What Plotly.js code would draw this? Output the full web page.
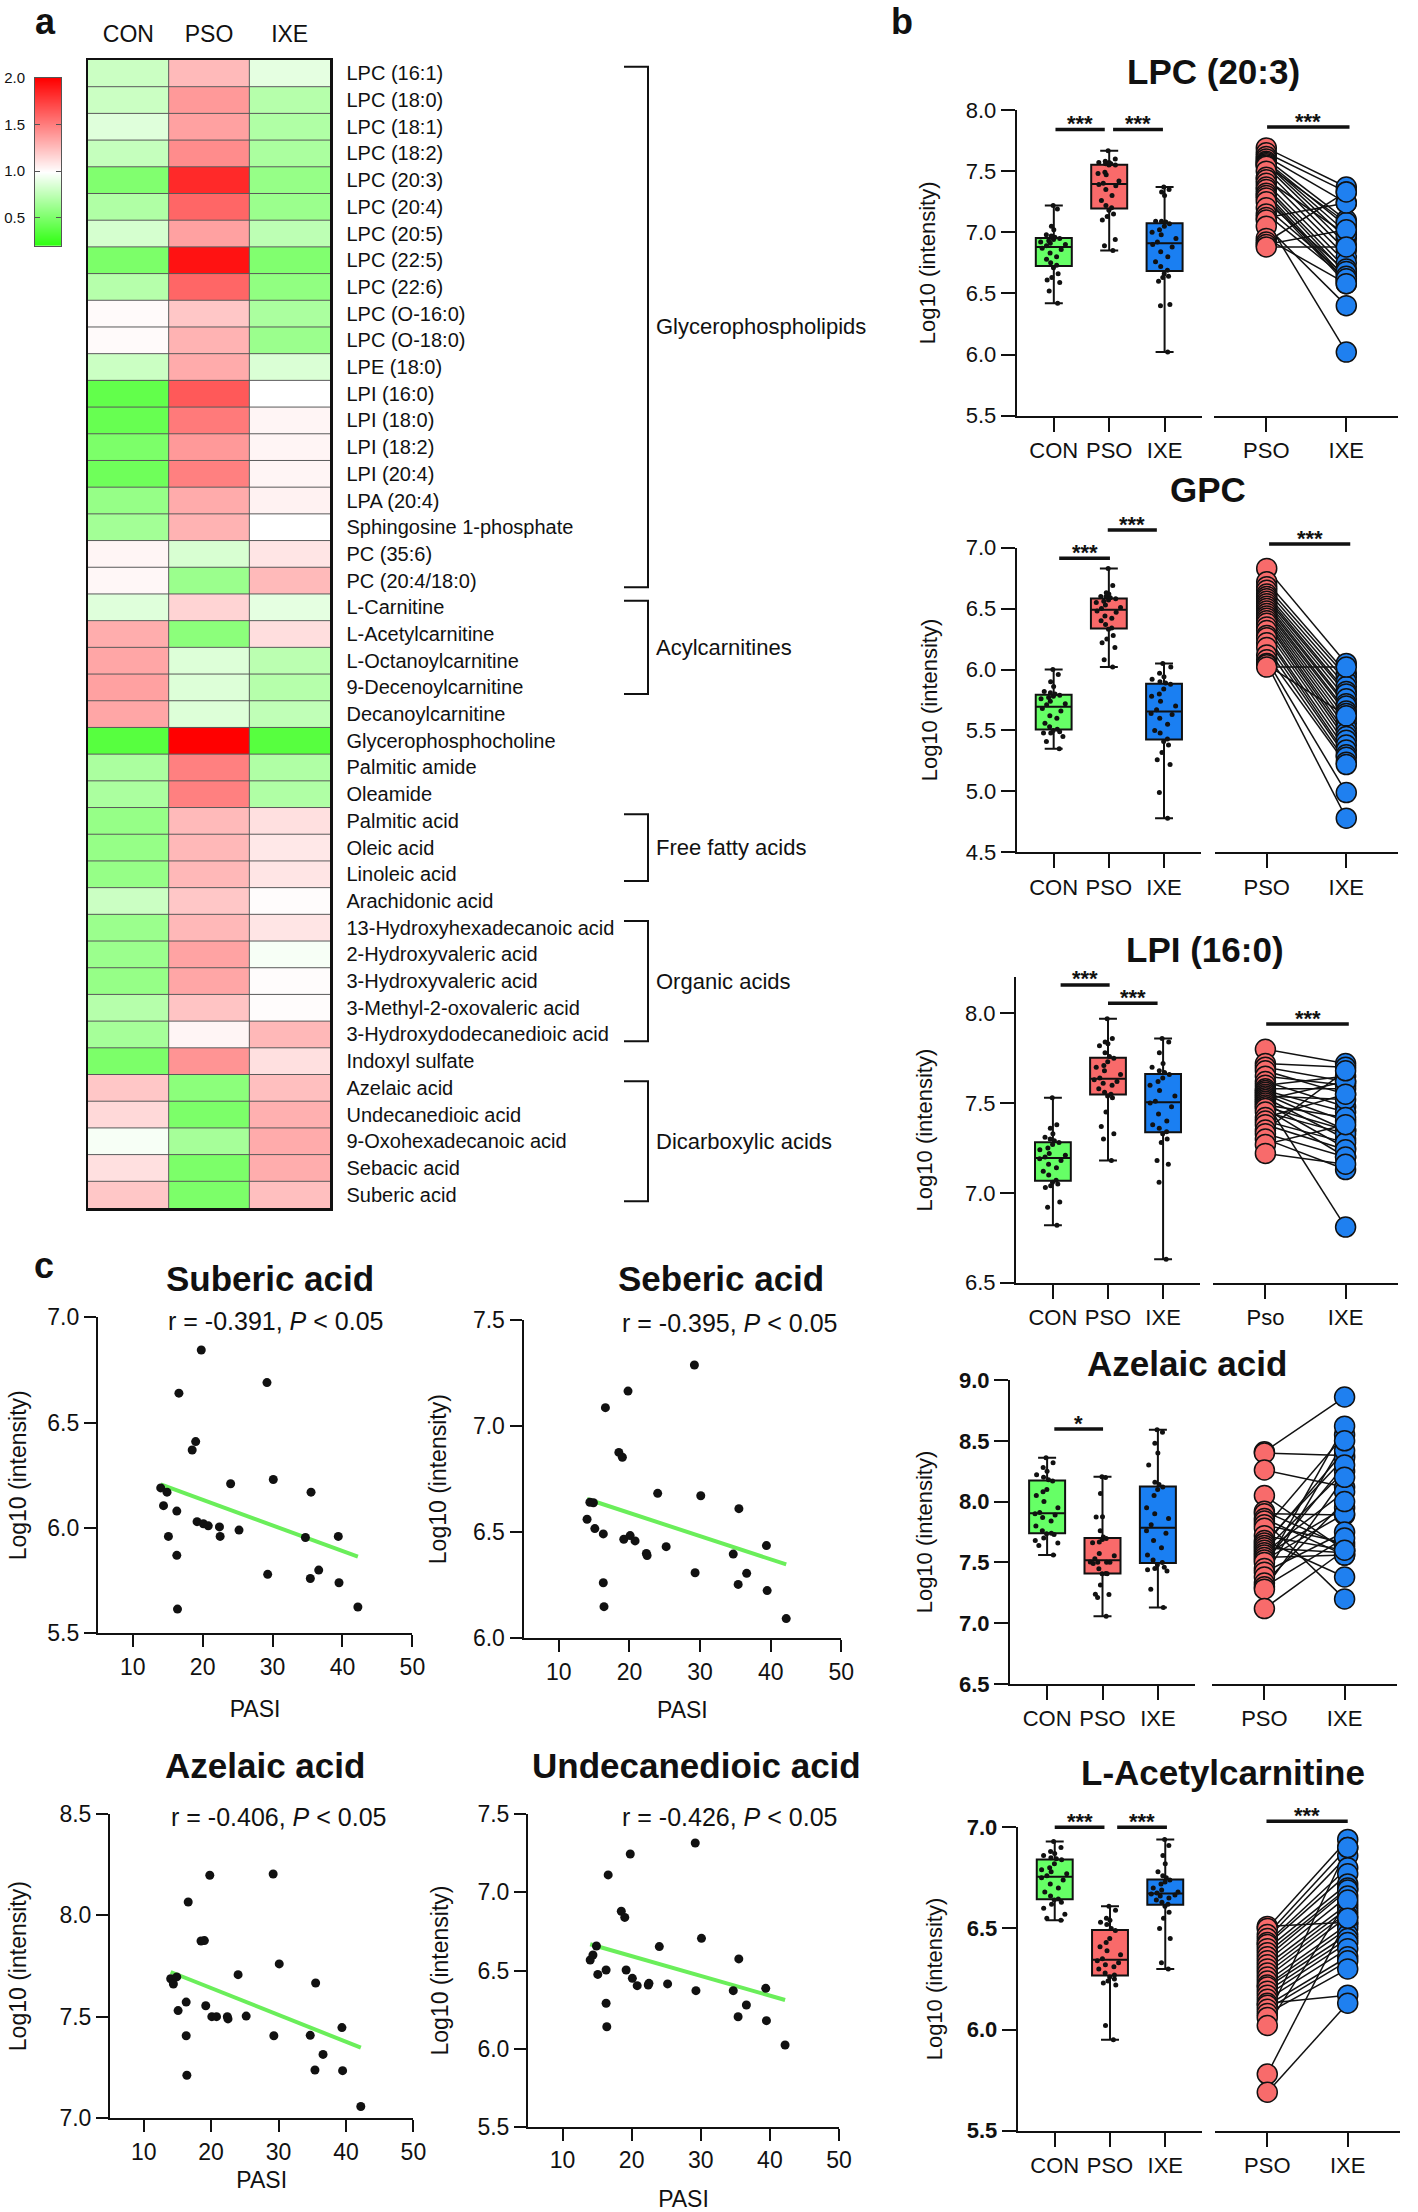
<!DOCTYPE html>
<html><head><meta charset="utf-8">
<script src="https://cdn.plot.ly/plotly-3.0.1.min.js"></script>
<style>html,body{margin:0;padding:0;background:#fff}#chart{width:1418px;height:2212px}</style>
</head><body><div id="chart"></div>
<script>
// ---------------- DATA ----------------
// Panel a: heatmap (relative intensity)
const heatGroups = ['CON', 'PSO', 'IXE'];
const metabolites = ['LPC (16:1)','LPC (18:0)','LPC (18:1)','LPC (18:2)','LPC (20:3)','LPC (20:4)','LPC (20:5)','LPC (22:5)','LPC (22:6)','LPC (O-16:0)','LPC (O-18:0)','LPE (18:0)','LPI (16:0)','LPI (18:0)','LPI (18:2)','LPI (20:4)','LPA (20:4)','Sphingosine 1-phosphate','PC (35:6)','PC (20:4/18:0)','L-Carnitine','L-Acetylcarnitine','L-Octanoylcarnitine','9-Decenoylcarnitine','Decanoylcarnitine','Glycerophosphocholine','Palmitic amide','Oleamide','Palmitic acid','Oleic acid','Linoleic acid','Arachidonic acid','13-Hydroxyhexadecanoic acid','2-Hydroxyvaleric acid','3-Hydroxyvaleric acid','3-Methyl-2-oxovaleric acid','3-Hydroxydodecanedioic acid','Indoxyl sulfate','Azelaic acid','Undecanedioic acid','9-Oxohexadecanoic acid','Sebacic acid','Suberic acid'];
const foldCON = [0.80,0.80,0.88,0.78,0.52,0.70,0.84,0.50,0.72,1.02,1.02,0.80,0.40,0.42,0.50,0.45,0.60,0.65,1.04,1.03,0.88,1.32,1.35,1.37,1.35,0.36,0.68,0.68,0.60,0.60,0.60,0.80,0.62,0.62,0.60,0.72,0.66,0.50,1.22,1.15,0.97,1.12,1.22];
const foldPSO = [1.27,1.40,1.37,1.45,1.84,1.60,1.37,1.93,1.60,1.22,1.30,1.33,1.65,1.52,1.40,1.50,1.33,1.30,0.85,0.62,1.17,0.56,0.87,0.87,0.87,2.00,1.50,1.50,1.27,1.28,1.28,1.22,1.28,1.36,1.35,1.23,1.04,1.42,0.56,0.50,0.66,0.50,0.50];
const foldIXE = [0.90,0.72,0.70,0.68,0.60,0.62,0.75,0.52,0.58,0.68,0.62,0.86,1.00,1.04,1.04,1.04,1.05,1.00,1.10,1.27,0.90,1.13,0.74,0.72,0.76,0.36,0.70,0.70,1.12,1.09,1.10,1.01,1.10,0.97,1.01,1.01,1.28,1.12,1.25,1.31,1.33,1.32,1.25];
const classNames = ['Glycerophospholipids','Acylcarnitines','Free fatty acids','Organic acids','Dicarboxylic acids'];
const classFirst = ['LPC (16:1)','L-Carnitine','Palmitic acid','13-Hydroxyhexadecanoic acid','Azelaic acid'];
const classLast = ['PC (20:4/18:0)','9-Decenoylcarnitine','Linoleic acid','3-Hydroxydodecanedioic acid','Suberic acid'];
const scaleLevels = [0.2, 1.0, 2.0];
const scaleTicks = [0.5, 1.0, 1.5, 2.0];

// Panel b: box plots (Log10 intensity)
const boxGroups = ['CON', 'PSO', 'IXE'];
const pairGroups = ['PSO', 'IXE'];
const pairGroupsLPI = ['Pso', 'IXE'];

const lpc203Con = [6.42,6.52,6.59,6.61,6.63,6.66,6.71,6.73,6.75,6.78,6.80,6.83,6.86,6.87,6.89,6.90,6.91,6.92,6.93,6.94,6.95,6.96,6.97,6.98,7.02,7.05,7.19,7.22];
const lpc203Pso = [6.85,6.89,6.94,7.10,7.13,7.15,7.18,7.20,7.22,7.26,7.30,7.35,7.38,7.39,7.40,7.42,7.47,7.48,7.49,7.55,7.55,7.56,7.56,7.57,7.57,7.58,7.60,7.667];
const lpc203Ixe = [6.02,6.40,6.41,6.60,6.63,6.64,6.66,6.69,6.72,6.76,6.80,6.84,6.88,6.90,6.92,6.95,6.98,7.00,7.02,7.05,7.07,7.085,7.09,7.09,7.30,7.33,7.35,7.37];
const lpc203PairPso = [7.69,7.65,7.62,7.60,7.58,7.57,7.56,7.55,7.54,7.50,7.45,7.43,7.40,7.37,7.35,7.32,7.30,7.28,7.25,7.20,7.15,7.12,7.10,7.05,6.95,6.92,6.90,6.88];
const lpc203PairIxe = [7.37,7.33,7.24,7.10,7.05,7.00,6.95,7.08,6.90,6.85,6.80,6.98,6.75,6.70,6.66,6.62,6.60,6.58,6.68,6.64,6.62,7.24,6.02,6.40,6.58,7.33,7.02,6.88];

const gpcCon = [5.35,5.41,5.45,5.48,5.48,5.49,5.50,5.51,5.53,5.56,5.60,5.62,5.66,5.68,5.71,5.72,5.74,5.76,5.77,5.78,5.79,5.80,5.81,5.82,5.86,5.90,5.96,6.00];
const gpcPso = [6.02,6.08,6.18,6.22,6.25,6.28,6.33,6.34,6.37,6.40,6.42,6.44,6.47,6.48,6.50,6.51,6.53,6.55,6.56,6.57,6.58,6.59,6.60,6.60,6.62,6.63,6.69,6.83];
const gpcIxe = [4.78,4.99,5.22,5.26,5.32,5.38,5.41,5.43,5.48,5.50,5.55,5.60,5.63,5.64,5.67,5.70,5.74,5.78,5.80,5.84,5.88,5.89,5.90,5.92,5.94,5.97,6.02,6.05];
const gpcPairPso = [6.83,6.72,6.68,6.65,6.62,6.60,6.58,6.56,6.54,6.52,6.50,6.48,6.46,6.44,6.42,6.40,6.38,6.35,6.32,6.28,6.26,6.22,6.18,6.12,6.08,6.05,6.04,6.02];
const gpcPairIxe = [6.05,5.97,5.94,5.90,5.86,5.82,5.80,5.76,5.72,5.70,5.66,5.64,5.60,5.56,5.52,5.48,5.45,5.42,5.38,5.34,5.30,5.28,5.24,5.22,4.99,4.78,5.62,6.02];

const lpi160Con = [6.82,6.92,6.95,7.03,7.04,7.05,7.06,7.07,7.10,7.12,7.14,7.16,7.18,7.19,7.20,7.21,7.22,7.24,7.25,7.27,7.28,7.29,7.30,7.31,7.33,7.36,7.38,7.53];
const lpi160Pso = [7.18,7.30,7.33,7.37,7.45,7.53,7.54,7.55,7.56,7.58,7.60,7.61,7.62,7.63,7.64,7.66,7.68,7.70,7.71,7.73,7.75,7.76,7.78,7.82,7.83,7.84,7.86,7.97];
const lpi160Ixe = [6.63,7.06,7.16,7.18,7.28,7.30,7.33,7.34,7.36,7.38,7.40,7.44,7.48,7.50,7.51,7.54,7.57,7.60,7.62,7.64,7.66,7.67,7.68,7.70,7.72,7.78,7.84,7.86];
const lpi160PairPso = [7.80,7.72,7.70,7.68,7.65,7.62,7.60,7.58,7.57,7.56,7.55,7.54,7.53,7.52,7.51,7.50,7.49,7.48,7.47,7.45,7.42,7.40,7.38,7.35,7.33,7.30,7.27,7.22];
const lpi160PairIxe = [7.72,7.70,7.62,7.55,7.60,7.48,7.65,7.58,7.45,7.40,7.35,7.52,7.30,7.62,6.81,7.25,7.42,7.35,7.20,7.33,7.55,7.28,7.24,7.68,7.20,7.13,7.38,7.16];

const azelaicCon = [7.56,7.64,7.66,7.68,7.70,7.73,7.735,7.74,7.76,7.80,7.84,7.87,7.89,7.90,7.91,7.95,8.00,8.05,8.08,8.10,8.17,8.18,8.20,8.22,8.25,8.28,8.32,8.36];
const azelaicIxe = [7.13,7.28,7.43,7.44,7.45,7.46,7.48,7.50,7.52,7.56,7.62,7.68,7.74,7.76,7.81,7.86,7.90,7.95,8.05,8.10,8.12,8.14,8.16,8.30,8.40,8.48,8.57,8.59];
const azelaicPairPso = [8.41,8.40,8.26,8.05,7.92,7.90,7.86,7.84,7.81,7.78,7.72,7.68,7.66,7.64,7.62,7.60,7.58,7.56,7.54,7.52,7.50,7.45,7.42,7.38,7.33,7.30,7.28,7.12];
const azelaicPairIxe = [8.86,8.38,8.12,7.60,7.63,7.89,7.56,7.20,7.66,8.55,7.60,7.38,8.36,8.42,7.58,8.25,8.08,7.95,7.56,7.90,8.30,8.62,7.75,8.50,8.00,7.70,8.20,7.60];

const acetylCon = [6.54,6.55,6.57,6.60,6.62,6.63,6.64,6.645,6.66,6.68,6.70,6.72,6.74,6.75,6.76,6.77,6.78,6.79,6.80,6.82,6.84,6.845,6.85,6.86,6.87,6.88,6.90,6.93];
const acetylPso = [5.95,6.02,6.22,6.23,6.24,6.25,6.26,6.27,6.28,6.30,6.31,6.32,6.33,6.34,6.35,6.37,6.39,6.41,6.43,6.45,6.49,6.50,6.52,6.53,6.54,6.55,6.59,6.61];
const acetylIxe = [6.30,6.33,6.45,6.50,6.55,6.58,6.61,6.62,6.63,6.64,6.65,6.66,6.665,6.67,6.675,6.68,6.69,6.70,6.72,6.73,6.74,6.75,6.76,6.78,6.82,6.86,6.91,6.94];
const acetylPairPso = [6.51,6.50,6.47,6.45,6.43,6.42,6.40,6.38,6.36,6.34,6.32,6.30,6.28,6.26,6.24,6.22,6.21,6.19,6.17,6.15,6.13,6.12,6.10,6.08,6.06,6.02,5.78,5.69];
const acetylPairIxe = [6.53,6.94,6.90,6.86,6.80,6.77,6.72,6.70,6.69,6.66,6.62,6.60,6.58,6.56,6.52,6.50,6.47,6.45,6.43,6.40,6.17,6.36,6.34,6.30,6.90,6.64,6.55,6.13];

// Panel c: correlation with PASI (psoriasis patients)
const pasiScore = [14.0,14.4,14.9,15.1,16.3,16.3,16.4,16.6,18.5,19.0,19.2,19.8,20.1,20.8,22.4,22.5,24.0,25.2,29.2,29.3,30.1,34.7,35.5,35.4,36.6,39.4,39.5,42.2];
const subericVsPasi = [6.19,6.106,6.17,5.96,6.08,5.87,5.615,6.64,6.37,6.41,6.03,6.845,6.02,6.01,6.005,5.96,6.21,5.99,6.69,5.78,6.23,5.955,6.17,5.76,5.80,5.96,5.74,5.625];
const sebericVsPasi = [6.561,6.641,6.639,6.517,6.492,6.262,6.149,7.087,6.876,6.853,6.467,7.165,6.484,6.459,6.40,6.39,6.683,6.432,7.288,6.309,6.672,6.397,6.611,6.254,6.306,6.437,6.225,6.093];
const azelaicVsPasi = [7.688,7.662,7.697,7.531,7.573,7.407,7.212,8.066,7.874,7.876,7.555,8.198,7.501,7.501,7.501,7.49,7.708,7.504,8.204,7.407,7.761,7.409,7.667,7.238,7.315,7.447,7.235,7.058];
const undecanedioicVsPasi = [6.567,6.599,6.657,6.475,6.503,6.290,6.140,7.112,6.879,6.840,6.503,7.246,6.450,6.403,6.407,6.418,6.653,6.414,7.316,6.371,6.706,6.371,6.574,6.204,6.279,6.386,6.179,6.023];
const corrR = ['-0.391', '-0.395', '-0.406', '-0.426'];

// ---------------- HELPERS ----------------
const W = 1418, H = 2212;
const FONT = 'Liberation Sans, Arial, Helvetica, sans-serif';
const INK = '#111111';
const dom = (a, b) => [a / W, b / W];
const domY = (top, bottom) => [1 - bottom / H, 1 - top / H];
const fx = p => p / W;
const fy = p => 1 - p / H;
function quant(arr, p) {
  const s = [...arr].sort((a, b) => a - b);
  const pos = (s.length - 1) * p, lo = Math.floor(pos), hi = Math.ceil(pos);
  return s[lo] + (s[hi] - s[lo]) * (pos - lo);
}
function linfit(xs, ys) {
  const n = xs.length;
  const mx = xs.reduce((a, b) => a + b, 0) / n, my = ys.reduce((a, b) => a + b, 0) / n;
  let sxy = 0, sxx = 0;
  for (let i = 0; i < n; i++) { sxy += (xs[i] - mx) * (ys[i] - my); sxx += (xs[i] - mx) ** 2; }
  const b = sxy / sxx;
  return { a: my - b * mx, b };
}

const traces = [], shapes = [], annotations = [];
const layout = {
  width: W, height: H, margin: { l: 0, r: 0, t: 0, b: 0 },
  paper_bgcolor: '#ffffff', plot_bgcolor: 'rgba(0,0,0,0)',
  font: { family: FONT, color: INK }, showlegend: false, boxmode: 'overlay'
};

// ---------------- PANEL A ----------------
const lo = scaleLevels[0], hi = scaleLevels[2];
const heatScale = [[0, 'rgb(45,255,15)'], [(scaleLevels[1] - lo) / (hi - lo), 'rgb(255,255,255)'], [1, 'rgb(255,0,0)']];
traces.push({
  type: 'heatmap', xaxis: 'x', yaxis: 'y',
  x: heatGroups.map((g, i) => i), y: metabolites.map((m, i) => i),
  z: metabolites.map((m, i) => [foldCON[i], foldPSO[i], foldIXE[i]]),
  zmin: lo, zmax: hi, colorscale: heatScale, showscale: false, hoverinfo: 'skip'
});
layout.xaxis = {
  domain: dom(88, 330), anchor: 'y', side: 'top', range: [-0.5, heatGroups.length - 0.5],
  tickvals: heatGroups.map((g, i) => i), ticktext: heatGroups, ticks: '', ticklabelstandoff: 6,
  tickfont: { size: 23 }, showline: true, mirror: true, linewidth: 2.5, linecolor: INK,
  showgrid: false, zeroline: false, fixedrange: true
};
layout.yaxis = {
  domain: domY(60, 1208), anchor: 'x', side: 'right', range: [metabolites.length - 0.5, -0.5],
  tickvals: metabolites.map((m, i) => i), ticktext: metabolites, ticks: '', ticklabelstandoff: 10,
  tickfont: { size: 20 }, showline: true, mirror: true, linewidth: 2.5, linecolor: INK,
  showgrid: false, zeroline: false, fixedrange: true
};
for (let i = 1; i < metabolites.length; i++) {
  shapes.push({ type: 'line', xref: 'x', yref: 'y', x0: -0.5, x1: heatGroups.length - 0.5, y0: i - 0.5, y1: i - 0.5, line: { color: '#5a5a5a', width: 1 }, layer: 'above' });
}
for (let j = 1; j < heatGroups.length; j++) {
  shapes.push({ type: 'line', xref: 'x', yref: 'y', x0: j - 0.5, x1: j - 0.5, y0: -0.5, y1: metabolites.length - 0.5, line: { color: '#5a5a5a', width: 1 }, layer: 'above' });
}
// class brackets
classNames.forEach((name, k) => {
  const a = metabolites.indexOf(classFirst[k]) - 0.25, b = metabolites.indexOf(classLast[k]) + 0.25;
  const xl = fx(624), xr = fx(648);
  shapes.push({ type: 'path', xref: 'paper', yref: 'y', path: `M ${xl},${a} L ${xr},${a} L ${xr},${b} L ${xl},${b}`, line: { color: INK, width: 2 } });
  annotations.push({ xref: 'paper', yref: 'y', x: fx(654), y: (a + b) / 2, xanchor: 'left', yanchor: 'middle', text: name, showarrow: false, font: { size: 22 } });
});
// colour key
traces.push({
  type: 'heatmap', xaxis: 'x2', yaxis: 'y2', x: [0, 1], y: scaleLevels,
  z: scaleLevels.map(v => [v, v]), zsmooth: 'best', zmin: lo, zmax: hi, colorscale: heatScale, showscale: false, hoverinfo: 'skip'
});
layout.xaxis2 = { domain: dom(35, 61), anchor: 'y2', range: [0, 1], showticklabels: false, ticks: '', showline: true, mirror: true, linecolor: '#555', linewidth: 1, showgrid: false, zeroline: false };
layout.yaxis2 = {
  domain: domY(77.7, 246), anchor: 'x2', range: [lo, hi], tickvals: scaleTicks, ticktext: scaleTicks.map(v => v.toFixed(1)),
  ticks: 'inside', ticklen: 5, tickcolor: '#555', showline: true, mirror: 'ticks', linecolor: '#555', linewidth: 1,
  tickfont: { size: 15 }, ticklabelstandoff: 6, showgrid: false, zeroline: false
};

// ---------------- PANEL B ----------------
const boxColors = ['#66FF66', '#F96A6A', '#1A7FF2'];
const bRows = [
  { title: 'LPC (20:3)', con: lpc203Con, pso: lpc203Pso, ixe: lpc203Ixe, pPso: lpc203PairPso, pIxe: lpc203PairIxe, pairLabels: pairGroups,
    range: [5.5, 8.0], boxX: [1016.7, 1201.7], pairX: [1214.3, 1398.3], top: 110, bottom: 415.7, tXY: [1213, 72], bold: false, yStand: 24,
    sig: [{ x0: 0.03, x1: 0.92, y: 7.84, t: '***' }, { x0: 1.07, x1: 1.97, y: 7.84, t: '***' }, { x0: 0.01, x1: 1.04, y: 7.86, t: '***', pair: true }] },
  { title: 'GPC', con: gpcCon, pso: gpcPso, ixe: gpcIxe, pPso: gpcPairPso, pIxe: gpcPairIxe, pairLabels: pairGroups,
    range: [4.5, 7.0], boxX: [1016.7, 1201], pairX: [1215, 1398], top: 547.7, bottom: 852.3, tXY: [1208, 490], bold: false, yStand: 22,
    sig: [{ x0: 0.1, x1: 1.02, y: 6.913, t: '***' }, { x0: 0.98, x1: 1.87, y: 7.145, t: '***' }, { x0: 0.03, x1: 1.05, y: 7.03, t: '***', pair: true }] },
  { title: 'LPI (16:0)', con: lpi160Con, pso: lpi160Pso, ixe: lpi160Ixe, pPso: lpi160PairPso, pIxe: lpi160PairIxe, pairLabels: pairGroupsLPI,
    range: [6.5, 8.2], tickTop: 8.0, boxX: [1016, 1200], pairX: [1213.3, 1397.7], top: 977.4, bottom: 1282.7, tXY: [1205, 950], bold: false, yStand: 26,
    sig: [{ x0: 0.14, x1: 1.03, y: 8.158, t: '***' }, { x0: 1.0, x1: 1.9, y: 8.056, t: '***' }, { x0: 0.01, x1: 1.04, y: 7.94, t: '***', pair: true }] },
  { title: 'Azelaic acid', con: azelaicCon, pso: azelaicVsPasi, ixe: azelaicIxe, pPso: azelaicPairPso, pIxe: azelaicPairIxe, pairLabels: pairGroups,
    range: [6.5, 9.0], boxX: [1010, 1195], pairX: [1212.3, 1396.7], top: 1380, bottom: 1684, tXY: [1187, 1363], bold: true, yStand: 20,
    sig: [{ x0: 0.13, x1: 1.01, y: 8.597, t: '*' }] },
  { title: 'L-Acetylcarnitine', con: acetylCon, pso: acetylPso, ixe: acetylIxe, pPso: acetylPairPso, pIxe: acetylPairIxe, pairLabels: pairGroups,
    range: [5.5, 7.0], boxX: [1017.7, 1202.3], pairX: [1215, 1400], top: 1827.3, bottom: 2130.7, tXY: [1223, 1772], bold: true, yStand: 18,
    sig: [{ x0: 0.0, x1: 0.9, y: 7.0, t: '***' }, { x0: 1.13, x1: 2.03, y: 7.0, t: '***' }, { x0: -0.01, x1: 1.0, y: 7.03, t: '***', pair: true }] }
];
const axisLine = { showline: true, linewidth: 2, linecolor: INK, ticks: 'outside', ticklen: 14, tickwidth: 2, tickcolor: INK, showgrid: false, zeroline: false, fixedrange: true };

bRows.forEach((row, k) => {
  const bxN = 3 + 2 * k, pxN = 4 + 2 * k;
  const bx = 'x' + bxN, by = 'y' + bxN, px = 'x' + pxN, py = 'y' + pxN;
  [row.con, row.pso, row.ixe].forEach((vals, i) => {
    traces.push({
      type: 'box', xaxis: bx, yaxis: by, x: [i], q1: [quant(vals, 0.25)], median: [quant(vals, 0.5)], q3: [quant(vals, 0.75)],
      lowerfence: [Math.min(...vals)], upperfence: [Math.max(...vals)], width: 0.65, fillcolor: boxColors[i],
      line: { color: INK, width: 2 }, whiskerwidth: 0.5, boxpoints: false, hoverinfo: 'skip'
    });
    traces.push({
      type: 'box', xaxis: bx, yaxis: by, x0: i, y: vals, width: 0.65, boxpoints: 'all', jitter: 0.85, pointpos: 0,
      fillcolor: 'rgba(0,0,0,0)', line: { color: 'rgba(0,0,0,0)', width: 0 }, whiskerwidth: 0,
      marker: { color: INK, size: 5 }, hoverinfo: 'skip'
    });
  });
  // paired lines
  const lx = [], ly = [];
  row.pPso.forEach((v, i) => { lx.push(0, 1, null); ly.push(v, row.pIxe[i], null); });
  traces.push({ type: 'scatter', mode: 'lines', xaxis: px, yaxis: py, x: lx, y: ly, line: { color: INK, width: 1.5 }, connectgaps: false, hoverinfo: 'skip' });
  traces.push({ type: 'scatter', mode: 'markers', xaxis: px, yaxis: py, x: row.pPso.map(() => 0), y: row.pPso, cliponaxis: false,
    marker: { size: 20, color: '#F86B6B', line: { color: INK, width: 1.5 } }, hoverinfo: 'skip' });
  traces.push({ type: 'scatter', mode: 'markers', xaxis: px, yaxis: py, x: row.pIxe.map(() => 1), y: row.pIxe, cliponaxis: false,
    marker: { size: 20, color: '#1F80F0', line: { color: INK, width: 1.5 } }, hoverinfo: 'skip' });

  const tickTop = row.tickTop || row.range[1];
  const yTicks = [];
  for (let v = row.range[0]; v <= tickTop + 1e-9; v += 0.5) yTicks.push(+v.toFixed(1));
  layout['xaxis' + bxN] = Object.assign({}, axisLine, { domain: dom(row.boxX[0], row.boxX[1]), anchor: by, range: [-0.67, 2.67],
    tickvals: [0, 1, 2], ticktext: boxGroups, tickfont: { size: 22 } });
  layout['yaxis' + bxN] = Object.assign({}, axisLine, { domain: domY(row.top, row.bottom), anchor: bx, range: row.range,
    tickvals: yTicks, ticktext: yTicks.map(v => v.toFixed(1)), tickfont: { size: 22, weight: row.bold ? 'bold' : 'normal' },
    title: { text: 'Log10 (intensity)', font: { size: 22 }, standoff: row.yStand } });
  layout['xaxis' + pxN] = Object.assign({}, axisLine, { domain: dom(row.pairX[0], row.pairX[1]), anchor: py, range: [-0.65, 1.65],
    tickvals: [0, 1], ticktext: row.pairLabels, tickfont: { size: 22 } });
  layout['yaxis' + pxN] = { domain: domY(row.top, row.bottom), anchor: px, range: row.range, visible: false, fixedrange: true };

  row.sig.forEach(s => {
    const frac = (s.y - row.range[0]) / (row.range[1] - row.range[0]);
    const xr = s.pair ? px : bx;
    shapes.push({ type: 'line', xref: xr, yref: by + ' domain', x0: s.x0, x1: s.x1, y0: frac, y1: frac, line: { color: INK, width: 3.5 } });
    annotations.push({ xref: xr, yref: by + ' domain', x: (s.x0 + s.x1) / 2, y: frac, text: s.t, showarrow: false,
      xanchor: 'center', yanchor: 'middle', yshift: 6, font: { size: 22, weight: 'bold' } });
  });
  annotations.push({ xref: 'paper', yref: 'paper', x: fx(row.tXY[0]), y: fy(row.tXY[1]), text: row.title, showarrow: false,
    xanchor: 'center', yanchor: 'middle', font: { size: 35, weight: 'bold' } });
});

// ---------------- PANEL C ----------------
const cPlots = [
  { title: 'Suberic acid', vals: subericVsPasi, r: corrR[0], range: [5.5, 7.0], x: [97.8, 412.4], top: 1317.3, bottom: 1633.3, tXY: [269.5, 1278], rXY: [275, 1321], xStand: 22, yStand: 14 },
  { title: 'Seberic acid', vals: sebericVsPasi, r: corrR[1], range: [6.0, 7.5], x: [523.5, 841.3], top: 1320, bottom: 1638.3, tXY: [721, 1278], rXY: [729, 1323], xStand: 18, yStand: 20 },
  { title: 'Azelaic acid', vals: azelaicVsPasi, r: corrR[2], range: [7.0, 8.5], x: [110, 413.4], top: 1814, bottom: 2118.3, tXY: [265, 1765], rXY: [278, 1817], xStand: 8, yStand: 26 },
  { title: 'Undecanedioic acid', vals: undecanedioicVsPasi, r: corrR[3], range: [5.5, 7.5], x: [528, 839], top: 1814.3, bottom: 2126.7, tXY: [696, 1765], rXY: [729, 1817], xStand: 20, yStand: 22 }
];
const cAxis = { showline: true, linewidth: 2, linecolor: INK, ticks: 'outside', ticklen: 12, tickwidth: 2, tickcolor: INK, showgrid: false, zeroline: false, fixedrange: true };
cPlots.forEach((p, k) => {
  const n = 13 + k, xa = 'x' + n, ya = 'y' + n;
  const fit = linfit(pasiScore, p.vals);
  const xr = [Math.min(...pasiScore), Math.max(...pasiScore)];
  traces.push({ type: 'scatter', mode: 'lines', xaxis: xa, yaxis: ya, x: xr, y: xr.map(x => fit.a + fit.b * x), line: { color: '#6AEE5A', width: 4 }, hoverinfo: 'skip' });
  traces.push({ type: 'scatter', mode: 'markers', xaxis: xa, yaxis: ya, x: pasiScore, y: p.vals, marker: { size: 9, color: INK }, cliponaxis: false, hoverinfo: 'skip' });
  const yT = [];
  for (let v = p.range[0]; v <= p.range[1] + 1e-9; v += 0.5) yT.push(+v.toFixed(1));
  layout['xaxis' + n] = Object.assign({}, cAxis, { domain: dom(p.x[0], p.x[1]), anchor: ya, range: [5, 50], tickvals: [10, 20, 30, 40, 50],
    tickfont: { size: 23 }, title: { text: 'PASI', font: { size: 23 }, standoff: p.xStand } });
  layout['yaxis' + n] = Object.assign({}, cAxis, { domain: domY(p.top, p.bottom), anchor: xa, range: p.range, tickvals: yT,
    ticktext: yT.map(v => v.toFixed(1)), tickfont: { size: 23 }, title: { text: 'Log10 (intensity)', font: { size: 23 }, standoff: p.yStand } });
  annotations.push({ xref: 'paper', yref: 'paper', x: fx(p.tXY[0]), y: fy(p.tXY[1]), text: p.title, showarrow: false, xanchor: 'center', yanchor: 'middle', font: { size: 35, weight: 'bold' } });
  annotations.push({ xref: 'paper', yref: 'paper', x: fx(p.rXY[0]), y: fy(p.rXY[1]), text: 'r = ' + p.r + ', <i>P</i> < 0.05', showarrow: false, xanchor: 'center', yanchor: 'middle', font: { size: 25 } });
});

// panel letters
[['a', 45, 0, 'top'], ['b', 902, 0, 'top'], ['c', 44, 1265, 'middle']].forEach(([t, x, y, anc]) => {
  annotations.push({ xref: 'paper', yref: 'paper', x: fx(x), y: fy(y), text: t, showarrow: false, xanchor: 'center', yanchor: anc, borderpad: 0, font: { size: 36, weight: 'bold' } });
});

layout.shapes = shapes;
layout.annotations = annotations;
Plotly.newPlot('chart', traces, layout, { staticPlot: true, displayModeBar: false });
</script></body></html>
